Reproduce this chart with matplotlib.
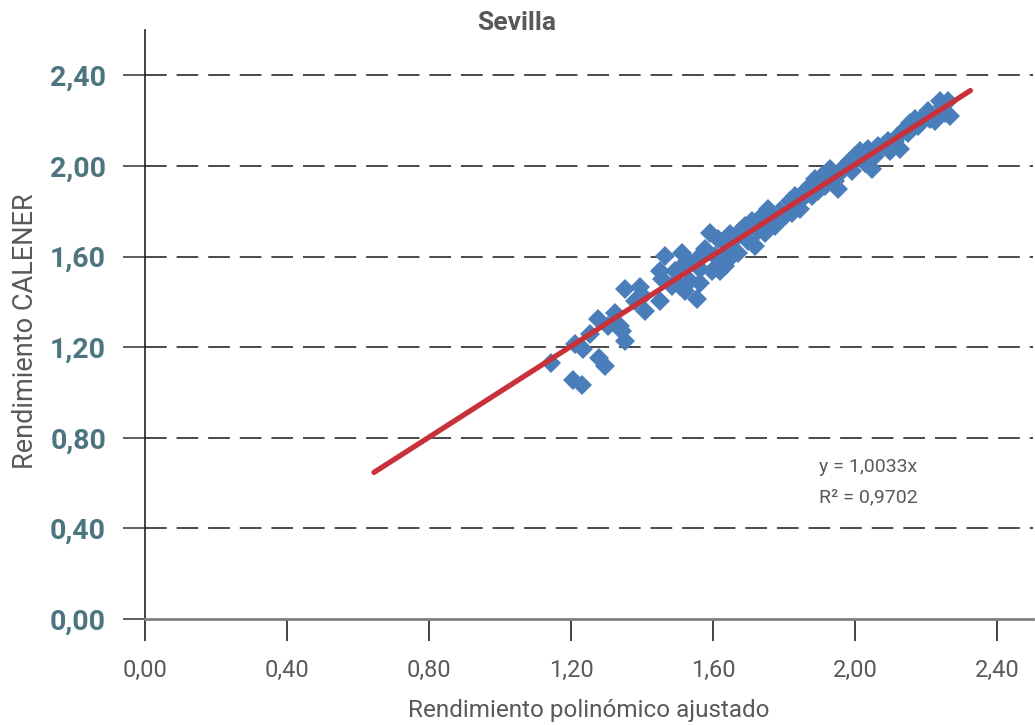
import matplotlib.pyplot as plt
from matplotlib.ticker import FixedLocator, FuncFormatter

plt.rcParams['font.family'] = ['Roboto', 'DejaVu Sans']

# rendimiento polinómico ajustado (x) frente a rendimiento CALENER (y)
x_pol = [1.144, 1.206, 1.231, 1.211, 1.234, 1.254, 1.276, 1.279, 1.296, 1.304,
         1.324, 1.338, 1.344, 1.352, 1.352, 1.380, 1.394, 1.408, 1.403, 1.451,
         1.451, 1.465, 1.456, 1.493, 1.507, 1.521, 1.513, 1.535, 1.555, 1.563,
         1.563, 1.577, 1.592, 1.597, 1.614, 1.620, 1.625, 1.642, 1.654, 1.662,
         1.676, 1.690, 1.699, 1.710, 1.727, 1.738, 1.755, 1.761, 1.775, 1.789,
         1.803, 1.817, 1.831, 1.845, 1.859, 1.873, 1.887, 1.896, 1.907, 1.930,
         1.944, 1.952, 1.972, 1.986, 2.000, 2.014, 2.028, 2.048, 2.037, 2.065,
         2.085, 2.099, 2.113, 2.127, 2.141, 2.155, 2.169, 2.189, 2.206, 2.225,
         2.239, 2.254, 2.262, 2.268, 2.248,
         1.563, 1.634, 1.670, 1.718, 1.746, 1.783, 1.823, 1.851, 1.879, 1.915,
         1.958, 1.992, 2.020, 2.056, 2.093, 2.121, 2.149, 2.177, 2.211, 1.521,
         1.485, 1.535, 1.606, 1.648]
y_cal = [1.128, 1.053, 1.035, 1.216, 1.194, 1.260, 1.326, 1.154, 1.119, 1.295,
         1.352, 1.295, 1.273, 1.229, 1.458, 1.405, 1.467, 1.361, 1.427, 1.405,
         1.537, 1.604, 1.502, 1.537, 1.471, 1.449, 1.617, 1.573, 1.414, 1.485,
         1.546, 1.634, 1.705, 1.537, 1.678, 1.537, 1.590, 1.648, 1.604, 1.678,
         1.714, 1.736, 1.670, 1.758, 1.714, 1.780, 1.811, 1.749, 1.736, 1.802,
         1.780, 1.846, 1.868, 1.811, 1.890, 1.912, 1.943, 1.890, 1.956, 1.987,
         1.934, 1.899, 2.000, 2.022, 2.044, 2.066, 2.013, 1.987, 2.075, 2.088,
         2.097, 2.066, 2.110, 2.075, 2.163, 2.189, 2.207, 2.207, 2.242, 2.198,
         2.286, 2.233, 2.286, 2.220, 2.264,
         1.604, 1.559, 1.617, 1.648, 1.705, 1.758, 1.793, 1.855, 1.868, 1.912,
         1.969, 1.978, 2.031, 2.044, 2.110, 2.132, 2.145, 2.176, 2.207, 1.573,
         1.471, 1.493, 1.604, 1.700]

slope = 1.0033
r2 = 0.9702
trend_x = [0.645, 2.325]
ticks = [0.0, 0.4, 0.8, 1.2, 1.6, 2.0, 2.4]

fig = plt.figure(figsize=(10.35, 7.25), dpi=100)
ax = fig.add_axes([0.1401, 0.1462, 0.8575, 0.8124])

ax.plot(x_pol, y_cal, 'D', color='#4a7ebb', markersize=10.5, markeredgewidth=0)
ax.plot(trend_x, [slope * v for v in trend_x], color='#c8313a', lw=3.8,
        solid_capstyle='round')

ax.set_xlim(0, 2.5)
ax.set_ylim(0, 2.6)
fmt = FuncFormatter(lambda v, p: f'{v:.2f}'.replace('.', ','))
ax.xaxis.set_major_locator(FixedLocator(ticks))
ax.yaxis.set_major_locator(FixedLocator(ticks))
ax.xaxis.set_major_formatter(fmt)
ax.yaxis.set_major_formatter(fmt)

for y in ticks[1:]:
    ax.axhline(y, color='#3a3a3a', lw=1.3, dashes=(12, 5.5), zorder=0)

for s in ['top', 'right']:
    ax.spines[s].set_visible(False)
ax.spines['left'].set_color('#222222')
ax.spines['left'].set_linewidth(1.2)
ax.spines['bottom'].set_color('#808080')
ax.spines['bottom'].set_linewidth(2)

ax.tick_params(axis='y', length=16, width=1.2, color='#444444', pad=12,
               labelsize=20.5, labelcolor='#4d7580')
for t in ax.get_yticklabels():
    t.set_fontweight('bold')
ax.tick_params(axis='x', length=16, width=1.2, color='#222222', pad=13,
               labelsize=17, labelcolor='#595959')

ax.set_xlabel('Rendimiento polinómico ajustado', fontsize=17.5, color='#595959',
              labelpad=12)
fig.text(0.025, 0.543, 'Rendimiento CALENER', rotation=90, fontsize=19.5,
         color='#595959', ha='center', va='center')
fig.text(0.4995, 0.968, 'Sevilla', fontsize=19, fontweight='bold',
         color='#595959', ha='center', va='center')

ax.text(2.037, 0.67, f'y = {slope:.4f}x'.replace('.', ','), fontsize=14,
        color='#595959', ha='center', va='center')
ax.text(2.037, 0.537, f'R² = {r2:.4f}'.replace('.', ','), fontsize=14,
        color='#595959', ha='center', va='center')

fig.savefig('out.png', dpi=100)
